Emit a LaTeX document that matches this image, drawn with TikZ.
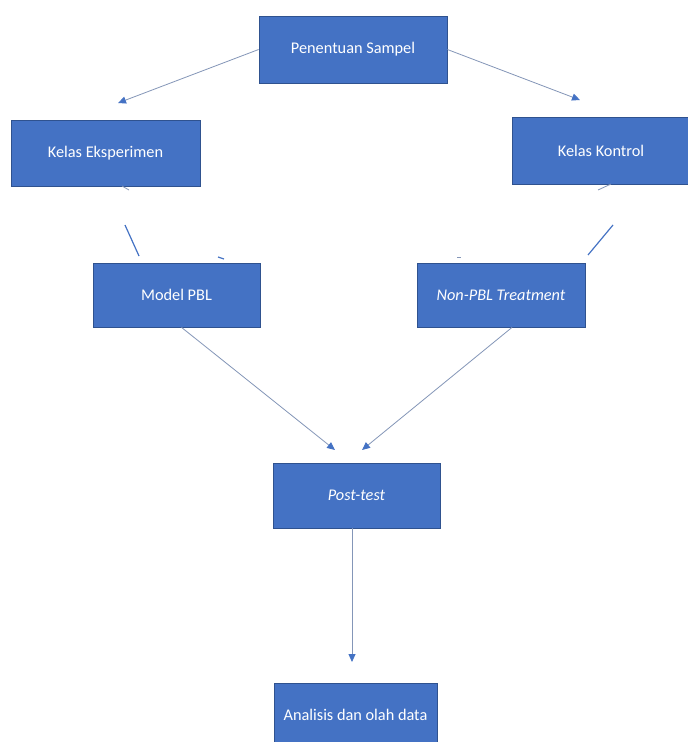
\documentclass[tikz,border=0pt]{standalone}
\usepackage{fontspec}
\setmainfont{Carlito}
\usetikzlibrary{arrows.meta}
\definecolor{boxblue}{HTML}{4472C4}
\definecolor{boxedge}{HTML}{2F528F}
\definecolor{linecol}{HTML}{8496B8}
\definecolor{fragcol}{HTML}{4472C4}
\begin{document}
\begin{tikzpicture}[x=1pt,y=-1pt,
  box/.style={draw=boxedge,line width=0.8pt,fill=boxblue,text=white,font=\fontsize{16.3}{19}\selectfont,inner sep=0pt},
  conn/.style={draw=linecol,line width=0.8pt,-{Triangle[length=8pt,width=7pt,color=boxblue,fill=boxblue]}},
  frag/.style={draw=fragcol,line width=1.2pt}]
\useasboundingbox (0,0) rectangle (688,742);
\fill[white] (0,0) rectangle (688,742);
\node[box,minimum width=188pt,minimum height=67pt] (ps) at (353,49.5) {Penentuan Sampel};
\node[box,minimum width=189pt,minimum height=66pt] (ke) at (105.5,153) {Kelas Eksperimen};
\node[box,minimum width=178pt,minimum height=67pt] (kk) at (601,150.5) {Kelas Kontrol};
\node[box,minimum width=167pt,minimum height=64pt] (pbl) at (176.5,295) {Model PBL};
\node[box,minimum width=168pt,minimum height=64pt] (npbl) at (501,295) {\itshape Non-PBL Treatment};
\node[box,minimum width=167pt,minimum height=65pt] (pt) at (356.5,495.5) {\itshape Post-test};
\node[box,minimum width=163pt,minimum height=64pt] (an) at (355.5,715) {Analisis dan olah data};
\coordinate (a1) at (118,103);
\coordinate (a2) at (580,100);
\coordinate (a3) at (335,450);
\coordinate (a4) at (362,450);
\coordinate (a5) at (352,662);
\coordinate (b1) at ([xshift=5pt]pbl.south);
\coordinate (b2) at ([xshift=11pt]npbl.south);
\coordinate (b3) at ([xshift=-4.5pt]pt.south);
\draw[conn] (ps.west) -- (a1);
\draw[conn] (ps.east) -- (a2);
\draw[conn] (b1) -- (a3);
\draw[conn] (b2) -- (a4);
\draw[conn] (b3) -- (a5);
% fragments between rows
\coordinate (f1a) at (122,186); \coordinate (f1b) at (129,190);
\coordinate (f2a) at (125,225); \coordinate (f2b) at (139,256);
\coordinate (f3a) at (218,257); \coordinate (f3b) at (224,259);
\coordinate (f4a) at (598,190); \coordinate (f4b) at (611,184);
\coordinate (f5a) at (613,225); \coordinate (f5b) at (588,255);
\coordinate (f6a) at (457,257); \coordinate (f6b) at (461,257);
\draw[draw=linecol,line width=0.8pt] (f1a) -- (f1b);
\draw[frag] (f2a) -- (f2b);
\draw[frag] (f3a) -- (f3b);
\draw[draw=linecol,line width=0.8pt] (f4a) -- (f4b);
\draw[frag] (f5a) -- (f5b);
\draw[draw=linecol,line width=0.8pt] (f6a) -- (f6b);
\end{tikzpicture}
\end{document}
